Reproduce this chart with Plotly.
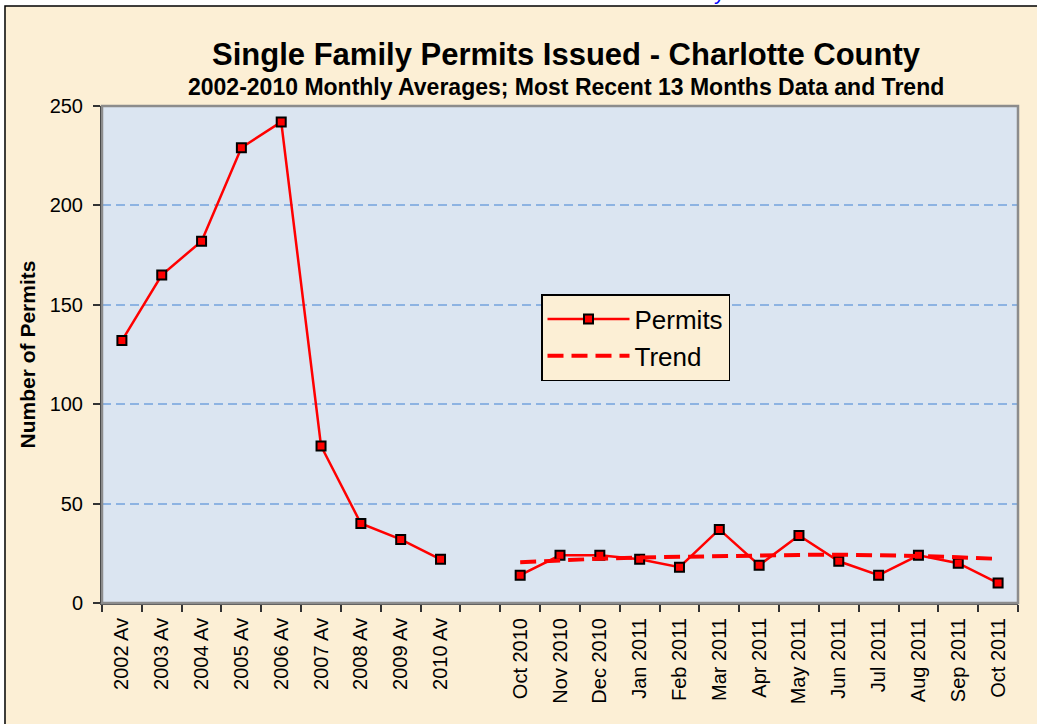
import plotly.graph_objects as go

# ---- data ----
annual_labels = ["2002 Av", "2003 Av", "2004 Av", "2005 Av", "2006 Av",
                 "2007 Av", "2008 Av", "2009 Av", "2010 Av"]
annual_values = [132, 165, 182, 229, 242, 79, 40, 32, 22]

month_labels = ["Oct 2010", "Nov 2010", "Dec 2010", "Jan 2011", "Feb 2011",
                "Mar 2011", "Apr 2011", "May 2011", "Jun 2011", "Jul 2011",
                "Aug 2011", "Sep 2011", "Oct 2011"]
month_values = [14, 24, 24, 22, 18, 37, 19, 34, 21, 14, 24, 20, 10]
trend_values = [20.5, 21.6, 22.3, 22.9, 23.3, 23.6, 23.9, 24.2, 24.3, 24.2,
                23.7, 23.0, 22.2]

gap_label = " "
categories = annual_labels + [gap_label] + month_labels

FONT = "Arial, 'Liberation Sans', sans-serif"
TAN = "#FCEFD5"
PLOT_BG = "#DBE5F1"

fig = go.Figure()

fig.add_trace(go.Scatter(
    x=categories,
    y=annual_values + [None] + month_values,
    name="Permits",
    mode="lines+markers",
    connectgaps=False,
    line=dict(color="#FF0000", width=2.5),
    marker=dict(symbol="square", size=9, color="#FF0000",
                line=dict(color="#000000", width=2)),
))

fig.add_trace(go.Scatter(
    x=month_labels,
    y=trend_values,
    name="Trend",
    mode="lines",
    line=dict(color="#FF0000", width=4, dash="16px,8px"),
))

# chart area background (tan) with black left/top border
fig.add_shape(type="rect", xref="paper", yref="paper",
              x0=-0.1059, x1=1.03, y0=-0.27, y1=1.2012,
              fillcolor=TAN, line=dict(color="#000000", width=1.5),
              layer="below")
# plot area fill
fig.add_shape(type="rect", xref="paper", yref="paper",
              x0=0, x1=1, y0=0, y1=1,
              fillcolor=PLOT_BG, line=dict(width=0),
              layer="below")
# plot area frame (gray top/right)
fig.add_shape(type="rect", xref="paper", yref="paper",
              x0=0, x1=1, y0=0, y1=1,
              line=dict(color="#8C8C8C", width=2.5),
              layer="above")

# subtitle
fig.add_annotation(
    text="<b>2002-2010 Monthly Averages; Most Recent 13 Months Data and Trend</b>",
    xref="paper", yref="paper", x=0.5066, y=(603 - 87) / 497,
    xanchor="center", yanchor="middle", showarrow=False,
    font=dict(family=FONT, size=23, color="#000000"))

# cut-off blue text at the very top
fig.add_annotation(text="y", xref="paper", yref="paper",
                   x=(719 - 102) / 916, y=1.2304,
                   xanchor="center", yanchor="middle",
                   showarrow=False,
                   font=dict(family=FONT, size=22, color="#0000FF"))

fig.update_layout(
    width=1037, height=724,
    margin=dict(l=102, r=19, t=106, b=121),
    paper_bgcolor="#FFFFFF",
    plot_bgcolor=PLOT_BG,
    font=dict(family=FONT, color="#000000"),
    title=dict(
        text="<b>Single Family Permits Issued - Charlotte County</b>",
        x=0.5066, xref="paper", xanchor="center",
        y=1 - 54 / 724, yref="container", yanchor="middle",
        font=dict(family=FONT, size=31, color="#000000"),
    ),
    showlegend=True,
    legend=dict(
        x=(541 - 102) / 916, y=(603 - 294) / 497,
        xanchor="left", yanchor="top",
        bgcolor=TAN, bordercolor="#000000", borderwidth=1.5,
        font=dict(family=FONT, size=26, color="#000000"),
        itemwidth=82,
    ),
)

fig.update_xaxes(
    type="category",
    categoryorder="array", categoryarray=categories,
    range=[-0.5, len(categories) - 0.5],
    tickson="boundaries",
    ticks="outside", ticklen=7, tickcolor="#333333", tickwidth=1.5,
    tickangle=-90,
    tickfont=dict(family=FONT, size=20, color="#000000"),
    ticklabelstandoff=5,
    showline=True, linecolor="#555555", linewidth=2,
    showgrid=False, zeroline=False,
)

fig.update_yaxes(
    range=[0, 250], dtick=50, tick0=0,
    ticks="outside", ticklen=7, tickcolor="#333333", tickwidth=1.5,
    tickfont=dict(family=FONT, size=20, color="#000000"),
    ticklabelstandoff=6,
    showline=True, linecolor="#333333", linewidth=2,
    showgrid=True, gridcolor="#8DB3E2", gridwidth=1.5, griddash="9px,5px",
    zeroline=False,
    title=dict(text="<b>Number of Permits</b>", standoff=8,
               font=dict(family=FONT, size=21, color="#000000")),
)

fig.write_html("out.html",
               config={"displayModeBar": False},
               post_script="document.body.style.margin='0px';")
